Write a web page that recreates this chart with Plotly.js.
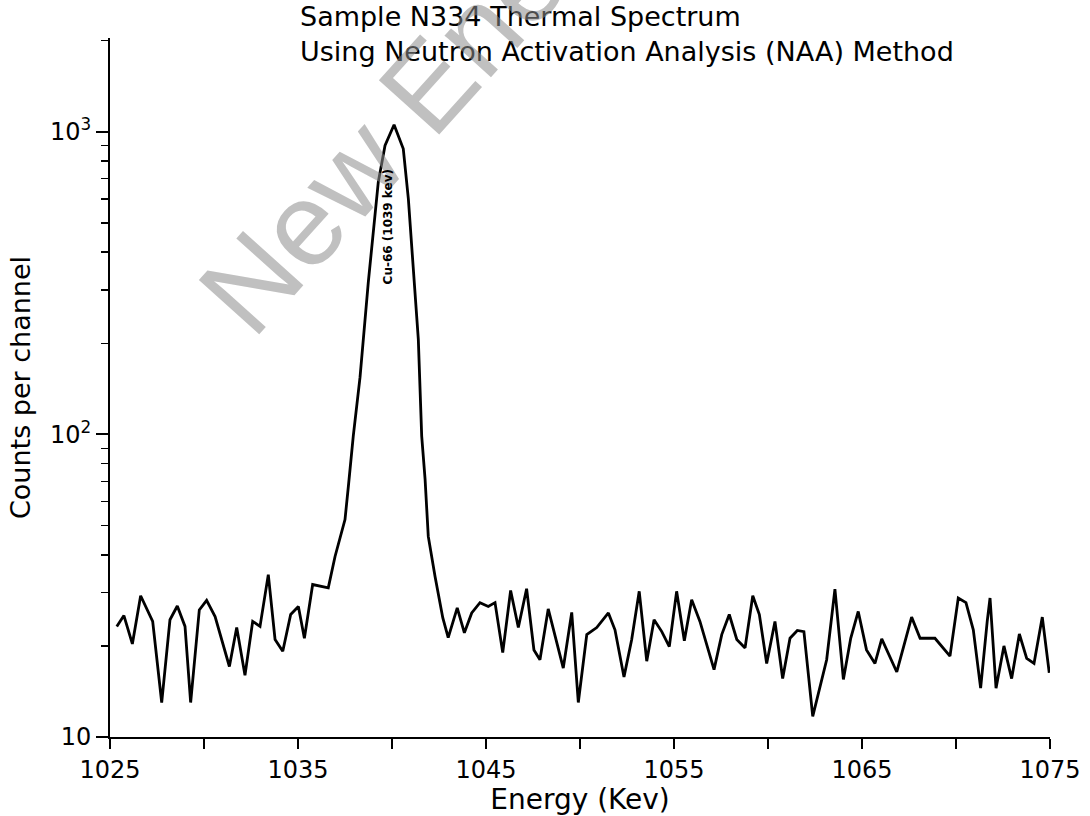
<!DOCTYPE html>
<html>
<head>
<meta charset="utf-8">
<script src="https://cdn.plot.ly/plotly-3.0.1.min.js"></script>
<style>html,body{margin:0;padding:0;background:#fff;}#chart{width:1090px;height:816px;}</style>
</head>
<body>
<div id="chart"></div>
<script>
// Energy (keV) of each plotted vertex
const energy = [
  1025.36, 1025.74, 1026.19, 1026.63, 1027.27, 1027.75, 1028.19, 1028.58, 1028.99, 1029.29,
  1029.75, 1030.14, 1030.59, 1031.35, 1031.74, 1032.18, 1032.59, 1032.98, 1033.42, 1033.78,
  1034.19, 1034.61, 1035.02, 1035.34, 1035.78, 1036.61, 1036.97, 1037.50, 1037.68, 1037.94,
  1038.30, 1038.74, 1039.27, 1039.63, 1040.11, 1040.60, 1040.87, 1041.13, 1041.40, 1041.58,
  1041.76, 1041.93, 1042.29, 1042.70, 1042.99, 1043.47, 1043.85, 1044.24, 1044.68, 1045.12,
  1045.48, 1045.89, 1046.31, 1046.72, 1047.16, 1047.55, 1047.87, 1048.31, 1048.72, 1049.11,
  1049.56, 1049.91, 1050.36, 1050.89, 1051.51, 1051.86, 1052.34, 1052.75, 1053.15, 1053.55,
  1053.94, 1054.35, 1054.75, 1055.14, 1055.55, 1055.94, 1056.38, 1057.13, 1057.54, 1057.94,
  1058.34, 1058.78, 1059.19, 1059.54, 1059.93, 1060.37, 1060.78, 1061.17, 1061.56, 1061.91,
  1062.38, 1063.12, 1063.56, 1064.01, 1064.40, 1064.80, 1065.24, 1065.69, 1066.05, 1066.85,
  1067.64, 1068.09, 1068.88, 1069.68, 1070.12, 1070.53, 1070.92, 1071.31, 1071.66, 1071.81,
  1072.13, 1072.55, 1072.96, 1073.37, 1073.76, 1074.15, 1074.59, 1074.96
];
// Counts per channel at each vertex
const counts = [
  23.2, 25.2, 20.3, 29.3, 24.1, 13.0, 24.4, 27.1, 23.2, 13.0,
  26.3, 28.3, 25.0, 17.1, 23.0, 16.0, 24.1, 23.2, 34.4, 21.0,
  19.2, 25.4, 27.0, 21.2, 31.9, 31.1, 39.5, 52.3, 67.4, 98.7,
  154.5, 318.7, 682, 901, 1055, 879, 600, 360, 206, 98.7,
  71.0, 46.0, 33.9, 24.8, 21.3, 26.7, 22.1, 25.7, 27.8, 27.0,
  27.8, 19.0, 30.5, 23.0, 30.9, 19.4, 18.0, 26.5, 21.0, 16.9,
  25.8, 13.0, 21.8, 23.0, 25.7, 22.6, 15.8, 21.0, 30.3, 17.8,
  24.4, 22.3, 19.9, 30.3, 20.8, 28.4, 24.1, 16.7, 21.8, 25.4,
  21.0, 19.7, 29.3, 25.4, 17.5, 24.1, 15.6, 21.2, 22.5, 22.3,
  11.7, 18.0, 30.8, 15.5, 21.2, 26.0, 19.4, 17.5, 21.1, 16.4,
  24.9, 21.2, 21.2, 18.5, 28.8, 27.8, 22.6, 14.5, 24.1, 28.8,
  14.5, 20.0, 15.6, 21.9, 18.2, 17.5, 24.9, 16.3
];
// Axis ticks
const xTickVals = [1025, 1030, 1035, 1040, 1045, 1050, 1055, 1060, 1065, 1070, 1075];
const xTickText = ['1025', '', '1035', '', '1045', '', '1055', '', '1065', '', '1075'];
const yTickVals = [10, 100, 1000];
const yTickText = ['10', '10<sup>2</sup>', '10<sup>3</sup>'];
const yMinorVals = [20, 30, 40, 50, 60, 70, 80, 90, 200, 300, 400, 500, 600, 700, 800, 900, 2000];
// Peak label
const peakLabel = 'Cu-66 (1039 kev)';
const peakLabelEnergy = 1039.8;
const peakLabelCounts = 484;
// Watermark text visible in the picture
const watermark = 'New Ene';

const FONT = 'DejaVu Sans, Liberation Sans, sans-serif';

const trace = {
  x: energy,
  y: counts,
  type: 'scatter',
  mode: 'lines',
  line: {color: '#000', width: 2.8},
  hoverinfo: 'skip'
};

const layout = {
  width: 1090,
  height: 816,
  margin: {l: 110, r: 40, t: 38, b: 79},
  paper_bgcolor: '#fff',
  plot_bgcolor: '#fff',
  showlegend: false,
  title: {
    text: 'Sample N334 Thermal Spectrum<br>Using Neutron Activation Analysis (NAA) Method',
    x: 300 / 1090, xref: 'container', xanchor: 'left',
    y: 0.968, yref: 'container', yanchor: 'top',
    font: {family: FONT, size: 27, color: '#000'}
  },
  xaxis: {
    range: [1025, 1075],
    tickmode: 'array', tickvals: xTickVals, ticktext: xTickText,
    ticks: 'outside', ticklen: 10, tickwidth: 2, tickcolor: '#000',
    showline: true, linewidth: 2, linecolor: '#000',
    showgrid: false, zeroline: false,
    tickfont: {family: FONT, size: 24, color: '#000'},
    title: {text: 'Energy (Kev)', font: {family: FONT, size: 28, color: '#000'}, standoff: 2}
  },
  yaxis: {
    type: 'log',
    range: [1, 3.31],
    tickmode: 'array', tickvals: yTickVals, ticktext: yTickText,
    ticks: 'outside', ticklen: 12, tickwidth: 2, tickcolor: '#000',
    minor: {tickmode: 'array', tickvals: yMinorVals, ticks: 'outside', ticklen: 7, tickwidth: 1.5, tickcolor: '#000', showgrid: false},
    showline: true, linewidth: 2, linecolor: '#000',
    showgrid: false, zeroline: false,
    tickfont: {family: FONT, size: 24, color: '#000'},
    title: {text: 'Counts per channel', font: {family: FONT, size: 27, color: '#000'}, standoff: 12}
  },
  annotations: [
    {
      text: watermark,
      xref: 'paper', yref: 'paper', x: 0.29, y: 0.86,
      xanchor: 'center', yanchor: 'middle',
      showarrow: false, textangle: -48,
      font: {family: 'Liberation Sans, Arial, sans-serif', size: 118, color: 'rgba(140,140,140,0.55)'}
    },
    {
      text: '<b>' + peakLabel + '</b>',
      xref: 'x', yref: 'y', x: peakLabelEnergy, y: Math.log10(peakLabelCounts),
      showarrow: false, textangle: -90,
      font: {family: FONT, size: 12, color: '#000'}
    }
  ]
};

Plotly.newPlot('chart', [trace], layout, {displayModeBar: false, staticPlot: true});
</script>
</body>
</html>
